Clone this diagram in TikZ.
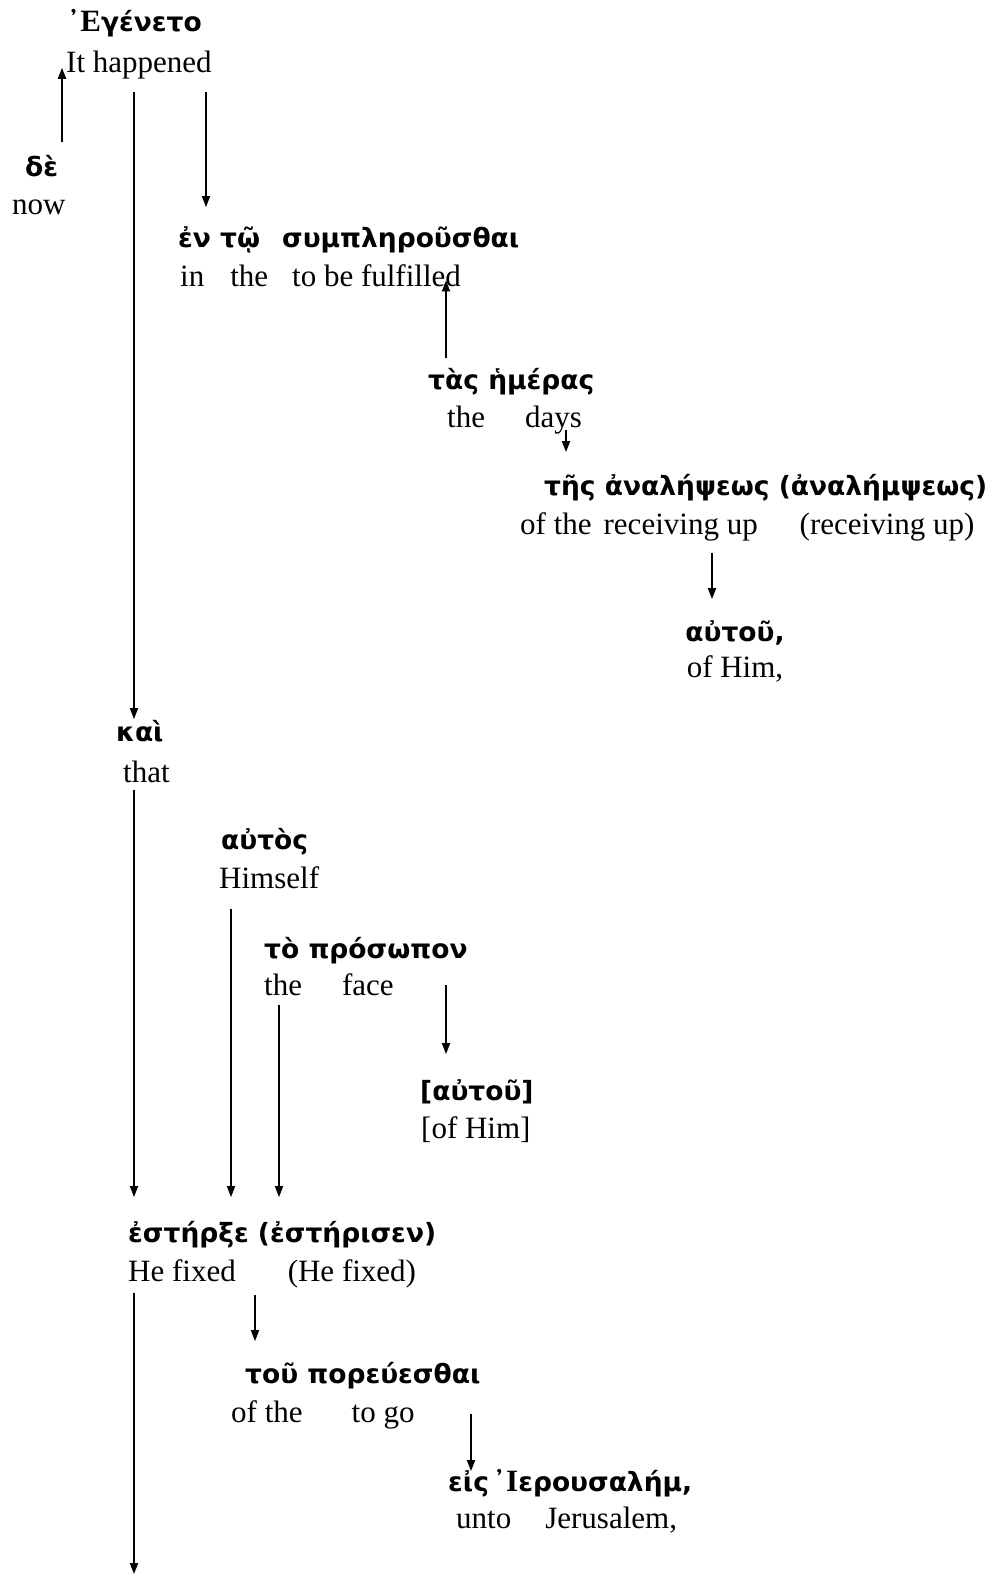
\documentclass[tikz,border=0pt]{standalone}
\usepackage{fontspec}
\setmainfont{Liberation Serif}
\newfontfamily\gkfont{DejaVu Sans}
\newfontfamily\gkmark{DejaVu Serif}
\newfontfamily\gkcap{Liberation Serif}
\usetikzlibrary{arrows.meta}
% capital with smooth breathing, set in a serif face
\newcommand\capbreath[1]{{\gkmark\bfseries ᾿}{\gkcap\bfseries\fontsize{31}{36}\selectfont #1}}
\begin{document}
\begin{tikzpicture}[x=1pt,y=1pt,
  gk/.style={font=\gkfont\bfseries\fontsize{26.5}{30}\selectfont, inner sep=0pt,
    anchor=mid west, text height=24pt, text depth=7pt},
  en/.style={font=\fontsize{31}{36}\selectfont, inner sep=0pt,
    anchor=mid west, text height=22pt, text depth=7pt},
  arr/.style={line width=1.8pt, -{Triangle[length=11pt,width=8pt]}}]
\useasboundingbox (0,0) rectangle (998,-1579);

% column positions of the vertical connectors
\foreach \c in {62,134,206,231,255,279,446,471,566,712}
  \coordinate (c\c) at (\c,0);

% words: Greek line above, English gloss below
\node[gk] (egeneto) at (67,-29) {\capbreath{Ε}γένετο};
\node[en] (happ) at (66,-70) {It happened};

\node[gk] (de) at (25,-174) {δὲ};
\node[en] (now) at (12,-212) {now};

\node[gk] (entw) at (178,-245) {ἐν τῷ\hspace{22pt}συμπληροῦσθαι};
\node[en] (inthe) at (180,-284) {in\hspace{26pt}the\hspace{24pt}to be fulfilled};

\node[gk] (tas) at (428,-387) {τὰς ἡμέρας};
\node[en] (days) at (447,-425) {the\hspace{40pt}days};

\node[gk] (ths) at (544,-493) {τῆς ἀναλήψεως (ἀναλήμψεως)};
\node[en] (recv) at (520,-532) {of the\hspace{12pt}receiving up\hspace{42pt}(receiving up)};

\node[gk, anchor=mid] (autou) at (735,-639) {αὐτοῦ,};
\node[en, anchor=mid] (ofhim) at (735,-675) {of Him,};

\node[gk] (kai) at (116,-739) {καὶ};
\node[en] (that) at (123,-780) {that};

\node[gk] (autos) at (221,-847) {αὐτὸς};
\node[en] (himself) at (219,-886) {Himself};

\node[gk] (prosw) at (264,-956) {τὸ πρόσωπον};
\node[en] (face) at (264,-993) {the\hspace{40pt}face};

\node[gk] (bautou) at (420,-1098) {[αὐτοῦ]};
\node[en] (bofhim) at (421,-1136) {[of Him]};

\node[gk] (esthr) at (128,-1240) {ἐστήρξε (ἐστήρισεν)};
\node[en] (fixed) at (128,-1279) {He fixed\hspace{52pt}(He fixed)};

\node[gk] (tou) at (245,-1381) {τοῦ πορεύεσθαι};
\node[en] (togo) at (231,-1420) {of the\hspace{49pt}to go};

\node[gk] (eis) at (448,-1489) {εἰς\hspace{4pt}\capbreath{Ι}ερουσαλήμ,};
\node[en] (unto) at (456,-1526) {unto\hspace{34pt}Jerusalem,};

\coordinate (tail) at (134,-1574);

% connectors
\draw[arr] ([yshift=10pt]de.north -| c62) -- ([yshift=-3pt]happ.west -| c62);
\draw[arr] ([yshift=-13pt]happ.south -| c134) -- ([yshift=-2pt]kai.north -| c134);
\draw[arr] ([yshift=-13pt]happ.south -| c206) -- ([yshift=16pt]entw.north -| c206);
\draw[arr] ([yshift=7pt]tas.north -| c446) -- ([yshift=13pt]inthe.south -| c446);
\draw[arr] ([yshift=4pt]days.south -| c566) -- ([yshift=19pt]ths.north -| c566);
\draw[arr] ([yshift=-11pt]recv.south -| c712) -- ([yshift=18pt]autou.north -| c712);
\draw[arr] (that.south -| c134) -- ([yshift=21pt]esthr.north -| c134);
\draw[arr] ([yshift=-13pt]himself.south -| c231) -- ([yshift=21pt]esthr.north -| c231);
\draw[arr] ([yshift=-2pt]face.south -| c279) -- ([yshift=21pt]esthr.north -| c279);
\draw[arr] ([yshift=8pt]face.mid -| c446) -- ([yshift=22pt]bautou.north -| c446);
\draw[arr] ([yshift=-4pt]fixed.south -| c134) -- (tail);
\draw[arr] ([yshift=-6pt]fixed.south -| c255) -- ([yshift=18pt]tou.north -| c255);
\draw[arr] ([yshift=6pt]togo.mid -| c471) -- ([yshift=-4pt]eis.north -| c471);
\end{tikzpicture}
\end{document}
